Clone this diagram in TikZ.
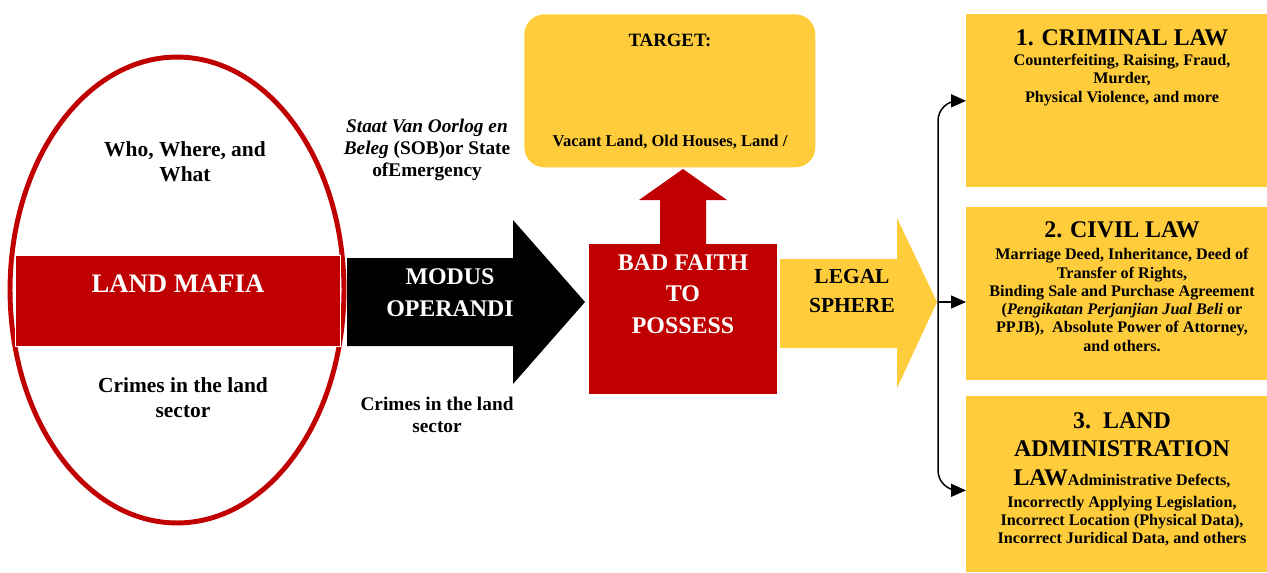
\documentclass[tikz,border=0pt]{standalone}
\usepackage{fontspec}
\setmainfont{Liberation Serif}
\usetikzlibrary{arrows.meta,calc,shapes.geometric}
\definecolor{dred}{HTML}{C00000}
\definecolor{gold}{HTML}{FFCD3C}
\begin{document}
\begin{tikzpicture}[x=0.02cm,y=-0.02cm,
  base/.style={align=center, inner sep=0pt},
  tmid/.style={base, font=\bfseries\fontsize{12.2}{14.2}\selectfont},
  tsml/.style={base, font=\bfseries\fontsize{11}{12.5}\selectfont},
  tbig/.style={base, font=\bfseries\fontsize{13.6}{18}\selectfont},
  ttitle/.style={base, font=\bfseries\fontsize{13.6}{15.9}\selectfont},
  tbody/.style={base, font=\bfseries\fontsize{9.2}{10.4}\selectfont},
  panel/.style={fill=gold, inner sep=0pt, anchor=north west, minimum width=6.02cm},
  conn/.style={line width=0.85pt, rounded corners=0.4cm, -{Triangle[length=0.3cm,width=0.26cm]}}
]
\useasboundingbox (0,0) rectangle (1267,572);

% ---- Land mafia oval
\node[draw=dred, line width=2.8pt, ellipse, minimum width=6.68cm, minimum height=9.32cm, inner sep=0pt] (oval) at (177,290) {};
\node[fill=dred, draw=white, line width=0.6pt, minimum width=6.5cm, minimum height=1.82cm, inner sep=0pt, anchor=north west] (mafiabox) at (15,255) {};
\node[base, text=white, font=\bfseries\fontsize{15.2}{18}\selectfont] (mafia) at (178,284) {LAND MAFIA};
\node[tmid] (who) at (185,162) {Who, Where, and\\What};
\node[tmid] (crimes1) at (183,398) {Crimes in the land\\sector};

% ---- Modus operandi arrow
\fill[black] (347,258) -- (513,258) -- (513,220) -- (585,302) -- (513,384) -- (513,346) -- (347,346) -- cycle;
\node[tbig, text=white] (modus) at (450,293) {MODUS\\OPERANDI};
\node[tsml] (sob) at (427,150) {\textit{Staat Van Oorlog en}\\\textit{Beleg} (SOB)or State\\ofEmergency};
\node[tsml] (crimes2) at (437,415) {Crimes in the land\\sector};

% ---- Bad faith
\fill[dred] (660,246) -- (660,200) -- (639,200) -- (683,169) -- (727,200) -- (706,200) -- (706,246) -- cycle;
\node[fill=dred, inner sep=0pt, anchor=north west, minimum width=3.76cm, minimum height=3cm] (badbox) at (589,244) {};
\node[tbig, text=white] (bad) at (683,294) {BAD FAITH\\TO\\POSSESS};

% ---- Target
\node[fill=gold, rounded corners=0.4cm, inner sep=0pt, anchor=north west, minimum width=5.82cm, minimum height=3.06cm] (targetbox) at (524,14) {};
\node[base, font=\bfseries\fontsize{10.7}{12}\selectfont] (target) at (670,40) {TARGET:};
\node[base, font=\bfseries\fontsize{9.4}{11}\selectfont] (vacant) at (670,142) {Vacant Land, Old Houses, Land /};

% ---- Legal sphere arrow
\fill[gold] (780,259) -- (897,259) -- (897,218) -- (937,302) -- (897,388) -- (897,348) -- (780,348) -- cycle;
\node[base, font=\bfseries\fontsize{12.2}{16.4}\selectfont] (legal) at (852,291) {LEGAL\\SPHERE};
\coordinate (split) at (938,302);

% ---- Law panels
\node[panel, minimum height=3.46cm] (box1) at (966,14) {};
\node[panel, minimum height=3.46cm] (box2) at (966,207) {};
\node[panel, minimum height=3.52cm] (box3) at (966,396) {};

\node[ttitle] (t1) at (1122,38) {1. CRIMINAL LAW};
\node[tbody] (b1) at (1122,80) {Counterfeiting, Raising, Fraud,\\Murder,\\Physical Violence, and more};

\node[ttitle] (t2) at (1122,230) {2. CIVIL LAW};
\node[tbody] (b2) at (1122,300) {Marriage Deed, Inheritance, Deed of\\Transfer of Rights,\\Binding Sale and Purchase Agreement\\(\textit{Pengikatan Perjanjian Jual Beli} or\\PPJB),~~Absolute Power of Attorney,\\and others.};

\node[ttitle] (t3) at (1122,435) {3.~~LAND\\ADMINISTRATION};
\node[base, anchor=base, font=\bfseries\fontsize{13.6}{16}\selectfont] (t3b) at (1122,485) {LAW{\fontsize{9.2}{10.4}\selectfont Administrative Defects,}};
\node[tbody] (b3) at (1122,521) {Incorrectly Applying Legislation,\\Incorrect Location (Physical Data),\\Incorrect Juridical Data, and others};

% ---- connectors
\draw[conn] (split) |- (box1.west);
\draw[conn] (split) -- (split -| box2.west);
\draw[conn] (split) |- ($(box3.west)+(0,6)$);
\end{tikzpicture}
\end{document}
